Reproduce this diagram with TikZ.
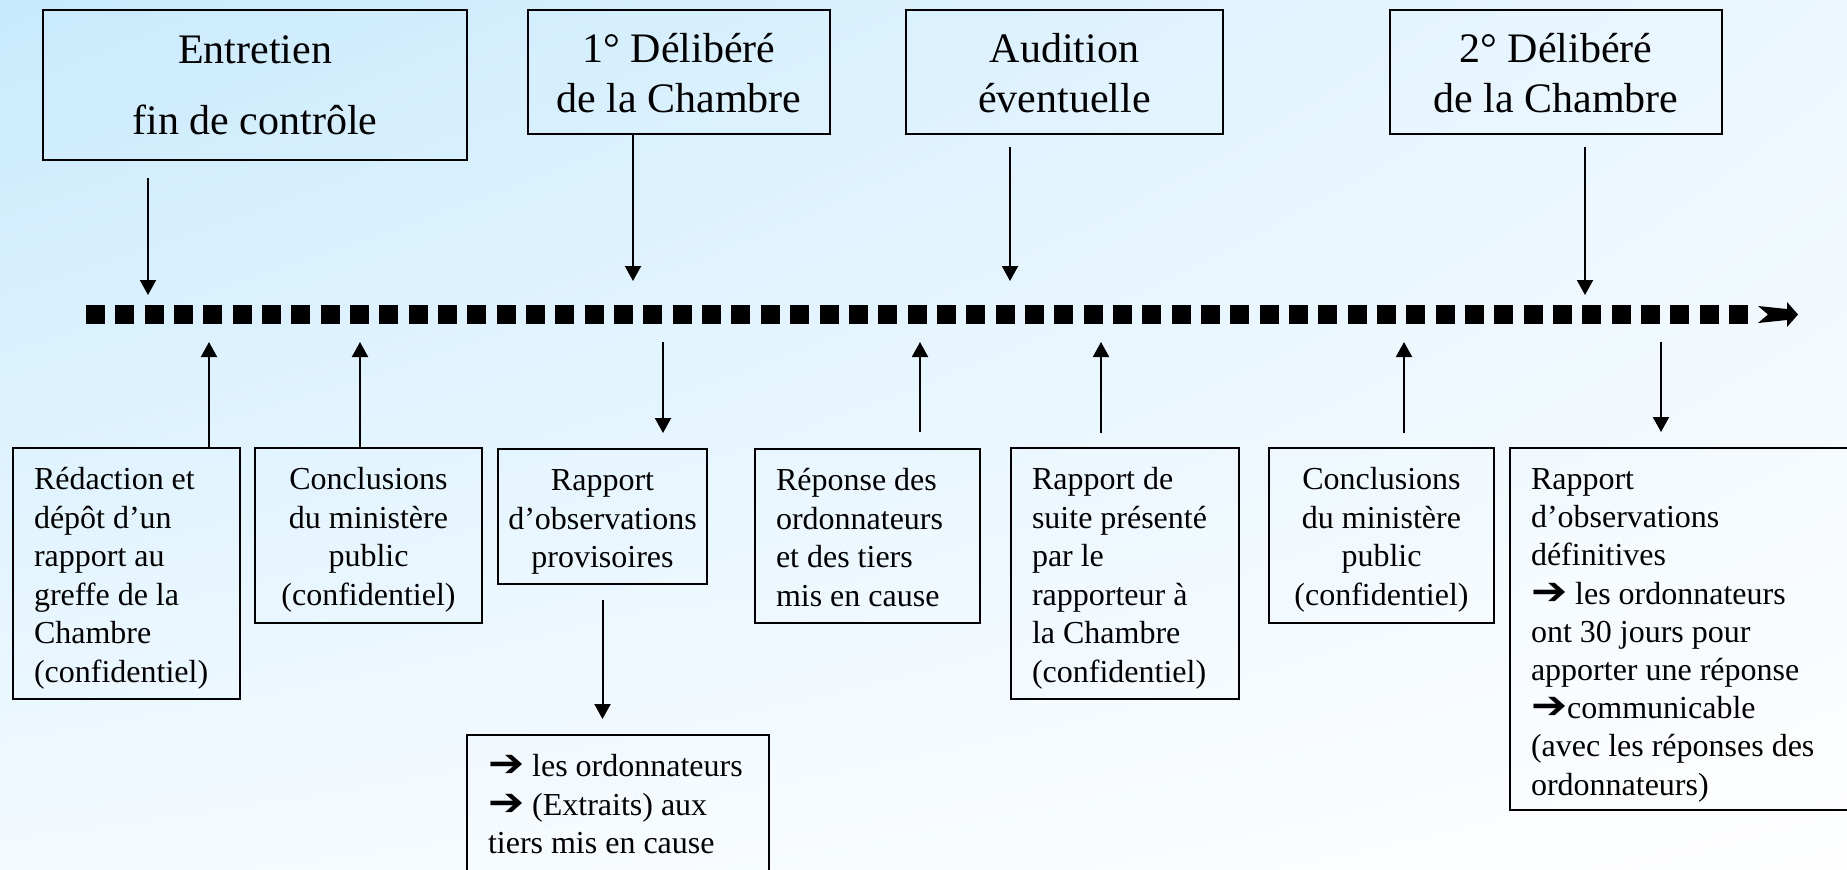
\documentclass[tikz,border=0pt]{standalone}
\usepackage{fontspec}
\setmainfont{Liberation Serif}
\newfontfamily\dingfont{DejaVu Sans}
\usetikzlibrary{arrows.meta,shadings}
\definecolor{bgUL}{RGB}{200,234,253}
\definecolor{bgUR}{RGB}{236,247,254}
\definecolor{bgLL}{RGB}{243,250,255}
\definecolor{bgLR}{RGB}{254,254,255}
% heavy right arrow used in the report boxes
\newcommand\harrow{\scalebox{1.35}[1.2]{\dingfont\bfseries ➔}}
% text blocks below the timeline: width, height, body
\newcommand\lowcenter[3]{\parbox[t][#2][t]{#1}{\fontsize{16}{19.25}\selectfont\centering\rule{0pt}{20.75pt}#3}}
\newcommand\lowleft[3]{\parbox[t][#2][t]{#1}{\fontsize{16}{19.25}\selectfont\raggedright\leftskip=10.5pt\rule{0pt}{20.75pt}#3}}

\begin{document}
\begin{tikzpicture}[x=0.5pt,y=-0.5pt,
  frame/.style={draw=black, line width=1pt, inner sep=0pt, anchor=north west},
  link/.style={line width=1pt, -{Triangle[width=8pt,length=7.5pt]}},
  ]
\useasboundingbox (0,0) rectangle (1847,869);
\clip (0,0) rectangle (1847,869);

% soft blue backdrop fading to white
\shade[upper left=bgUL, upper right=bgUR, lower left=bgLL, lower right=bgLR]
  (0,0) rectangle (1847,869);

% timeline: square dots and a notched block arrow
\draw[line width=9.5pt, dash pattern=on 9.5pt off 5.17pt] (86,314) -- (1748,314);
\fill (1758,306) -- (1787,309) -- (1787,302) -- (1798,314.5) -- (1787,327)
      -- (1787,320) -- (1758,323) -- (1768,314.5) -- cycle;

% points on the timeline
\coordinate (tA) at (148,314);
\coordinate (tB) at (633,314);
\coordinate (tC) at (1010,314);
\coordinate (tD) at (1585,314);
\coordinate (tE) at (209,314);
\coordinate (tF) at (360,314);
\coordinate (tG) at (663,314);
\coordinate (tH) at (920,314);
\coordinate (tI) at (1101,314);
\coordinate (tJ) at (1404,314);
\coordinate (tK) at (1661,314);

% stages above the timeline
\node[frame] (T1) at (42,9) {\parbox[t][75pt][t]{212pt}{\fontsize{21}{35.5}\selectfont\centering\rule{0pt}{26.5pt}Entretien\\fin de contrôle}};
\node[frame] (T2) at (527,9) {\parbox[t][62pt][t]{151pt}{\fontsize{21}{25}\selectfont\centering\rule{0pt}{26pt}1° Délibéré\\de la Chambre}};
\node[frame] (T3) at (905,9) {\parbox[t][62pt][t]{158.5pt}{\fontsize{21}{25}\selectfont\centering\rule{0pt}{26pt}Audition\\éventuelle}};
\node[frame] (T4) at (1389,9) {\parbox[t][62pt][t]{166pt}{\fontsize{21}{25}\selectfont\centering\rule{0pt}{26pt}2° Délibéré\\de la Chambre}};

% documents below the timeline
\node[frame] (B1) at (12,447) {\lowleft{113.5pt}{125.5pt}{Rédaction et\\dépôt d’un\\rapport au\\greffe de la\\Chambre\\(confidentiel)}};
\node[frame] (B2) at (254,447) {\lowcenter{113.5pt}{87.5pt}{Conclusions\\du ministère\\public\\(confidentiel)}};
\node[frame] (B3) at (497,448) {\lowcenter{104.5pt}{67.5pt}{Rapport\\d’observations\\provisoires}};
\node[frame] (B4) at (754,448) {\lowleft{112.5pt}{87pt}{Réponse des\\ordonnateurs\\et des tiers\\mis en cause}};
\node[frame] (B5) at (1010,447) {\lowleft{114pt}{125.5pt}{Rapport de\\suite présenté\\par le\\rapporteur à\\la Chambre\\(confidentiel)}};
\node[frame] (B6) at (1268,447) {\lowcenter{112.5pt}{87.5pt}{Conclusions\\du ministère\\public\\(confidentiel)}};
\node[frame] (B7) at (1509,447) {\parbox[t][181pt][t]{170pt}{\fontsize{16}{19.1}\selectfont\raggedright\leftskip=10.5pt\rule{0pt}{20.75pt}Rapport\\d’observations\\définitives\\\harrow{} les ordonnateurs\\ont 30 jours pour\\apporter une réponse\\\harrow communicable\\(avec les réponses des\\ordonnateurs)}};
\node[frame] (B8) at (466,734) {\lowleft{151pt}{100pt}{\harrow{} les ordonnateurs\\\harrow{} (Extraits) aux\\tiers mis en cause}};

% connectors from the stages down to the timeline
\draw[link, shorten <=8.5pt, shorten >=9.5pt] (T1.south -| tA) -- (tA);
\draw[link, shorten >=16.5pt] (T2.south -| tB) -- (tB);
\draw[link, shorten <=6pt, shorten >=16.5pt] (T3.south -| tC) -- (tC);
\draw[link, shorten <=6pt, shorten >=9.5pt] (T4.south -| tD) -- (tD);

% connectors between the timeline and the documents
\draw[link, shorten >=14pt] (B1.north -| tE) -- (tE);
\draw[link, shorten >=14pt] (B2.north -| tF) -- (tF);
\draw[link, shorten <=14pt, shorten >=7.5pt] (tG) -- (B3.north -| tG);
\draw[link, shorten <=8pt, shorten >=14pt] (B4.north -| tH) -- (tH);
\draw[link, shorten <=7pt, shorten >=14pt] (B5.north -| tI) -- (tI);
\draw[link, shorten <=7pt, shorten >=14pt] (B6.north -| tJ) -- (tJ);
\draw[link, shorten <=14pt, shorten >=7.5pt] (tK) -- (B7.north -| tK);
\draw[link, shorten <=7.5pt, shorten >=7.5pt] (B3.south) -- (B8.north -| B3.south);
\end{tikzpicture}
\end{document}
